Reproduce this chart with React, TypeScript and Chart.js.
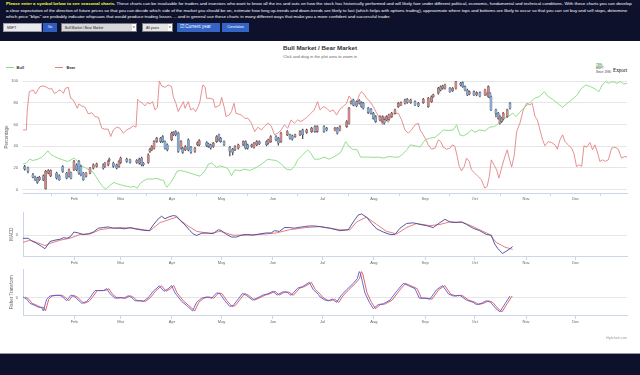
import React, { useEffect, useRef } from "react";
import { Chart, registerables } from "chart.js";
Chart.register(...registerables);

const FONT = "'Liberation Sans', Arial, sans-serif";
Chart.defaults.font.family = FONT;

const NAVY = "#0d112b";
const GRID = "#e6e6e6";
const AXIS = "#ccd6eb";
const LABEL = "#666666";

const monthTickDays = [31, 59, 90, 120, 151, 181, 212, 243, 273, 304, 334];
const monthLabels = ["Feb", "Mar", "Apr", "May", "Jun", "Jul", "Aug", "Sep", "Oct", "Nov", "Dec"];
const percentTicks = [0, 20, 40, 60, 80, 100];

// [dayOfYear, value]
const bull: [number, number][] = [
  [0, 23.5], [2, 24.5], [4, 28.1], [6, 26.9], [9, 28.1], [11, 29.7], [13, 32.1], [15, 35.8], [17, 32.1], [19, 30.6],
  [21, 29.1], [24, 27.5], [27, 26.0], [29, 27.5], [31, 29.1], [32, 27.5], [34, 24.5], [36, 21.4], [38, 19.9], [40, 18.3],
  [42, 16.8], [44, 12.2], [46, 7.6], [48, 3.1], [50, 0.6], [53, 4.6], [55, 6.7], [57, 5.5], [59, 4.6], [61, 3.7],
  [63, 3.1], [65, 2.4], [67, 3.1], [69, 1.5], [71, 6.1], [73, 8.3], [75, 9.8], [78, 9.8], [81, 10.4], [83, 9.2],
  [85, 8.6], [86, 4.6], [87, 2.4], [89, 6.1], [91, 10.7], [93, 16.8], [95, 17.7], [98, 16.8], [101, 15.3], [104, 13.8],
  [107, 12.5], [110, 17.5], [112, 23.5], [114, 24.5], [117, 20.5], [119, 22.0], [122, 20.8], [124, 19.0], [126, 12.8], [128, 18.3],
  [131, 17.4], [134, 19.0], [137, 17.7], [139, 19.0], [142, 21.4], [145, 24.5], [148, 28.1], [150, 27.5], [153, 26.9], [156, 23.9],
  [159, 19.0], [162, 18.3], [164, 21.4], [166, 27.5], [169, 32.1], [172, 36.7], [174, 33.6], [176, 28.1], [179, 28.1], [182, 30.0],
  [185, 28.1], [189, 31.2], [192, 34.3], [195, 44.3], [197, 39.8], [199, 37.3], [202, 36.7], [204, 30.0], [207, 30.0], [210, 30.0],
  [212, 29.7], [215, 30.0], [218, 29.1], [221, 30.6], [224, 30.0], [227, 30.0], [229, 32.1], [232, 36.7], [234, 41.3], [237, 40.4],
  [240, 39.3], [243, 45.9], [246, 47.4], [249, 48.3], [252, 52.0], [254, 55.0], [257, 54.4], [260, 55.0], [262, 59.6], [264, 50.5],
  [266, 49.5], [269, 52.0], [271, 55.0], [273, 52.9], [276, 55.0], [279, 54.1], [282, 57.5], [285, 58.1], [287, 60.6], [290, 64.8],
  [293, 67.3], [296, 70.3], [298, 67.3], [300, 70.9], [303, 75.8], [306, 79.5], [309, 84.1], [312, 85.6], [315, 90.2], [317, 86.2],
  [320, 83.2], [323, 79.5], [326, 75.8], [329, 79.5], [332, 83.2], [335, 87.2], [337, 92.4], [340, 96.3], [343, 94.8], [346, 92.4],
  [348, 90.2], [350, 96.3], [352, 99.4], [354, 97.9], [356, 99.5], [359, 97.9], [361, 99.4], [363, 97.2], [365, 97.9],
];

const bear: [number, number][] = [
  [0, 55], [2, 55], [2.6, 73.4], [3.8, 90.2], [5.2, 91.1], [6.2, 91.7], [7.6, 88.1], [9.3, 92.4], [10.3, 94.8], [12.3, 95.4],
  [14.3, 94.2], [16.3, 92.4], [17.3, 93.3], [18.9, 88.7], [20.3, 89.3], [21.8, 91.7], [23, 91.1], [24.4, 88.7], [25.6, 93.3], [27.4, 94.2],
  [28.8, 84.1], [30, 83.2], [31.4, 79.5], [32.8, 74.9], [33.8, 78.9], [35.5, 77.1], [37.5, 75.8], [39.5, 69.7], [41.5, 70.9], [43.5, 67.3],
  [45.5, 66.7], [47.6, 56.6], [49.5, 55.7], [51.5, 55.7], [53, 48.9], [54.6, 55.0], [56.6, 57.5], [58.6, 56.6], [60.6, 52.0], [62.7, 55.0],
  [64.7, 56.6], [66.7, 58.7], [68.3, 57.5], [69.3, 83.2], [70.7, 81.0], [72.3, 79.5], [73.7, 77.1], [75.3, 80.1], [76.7, 78.9], [78.3, 81.0],
  [79.8, 73.4], [81.2, 75.8], [82.4, 100], [83.8, 95.4], [85.8, 94.2], [87.8, 96.3], [89.8, 94.8], [90.8, 85.6], [92.4, 79.5], [93.8, 71.9],
  [95.9, 78.0], [96.9, 81.0], [97.9, 74.9], [99.9, 81.0], [101.3, 73.4], [102.9, 74.9], [104.3, 71.9], [105.9, 76.5], [106.9, 81.0], [108.6, 96.3],
  [110, 94.8], [111, 84.1], [113, 84.1], [115, 83.2], [116, 75.8], [117.4, 76.5], [119, 78.0], [120, 85.0], [121.5, 76.5], [122.7, 67.3],
  [124.7, 68.8], [126, 71.9], [127.5, 79.5], [128.7, 70.3], [130, 69.7], [132, 68.8], [134, 65.7], [136, 65.7], [138, 61.2], [140, 53.5],
  [142, 57.5], [144, 55.0], [146, 58.1], [148, 61.2], [150, 58.7], [152, 50.5], [154, 52.0], [156, 55.0], [158, 59.6], [160, 56.6],
  [162, 64.2], [164, 61.2], [166, 64.2], [168, 62.7], [170, 64.8], [172, 67.3], [174, 70.3], [176, 73.4], [178, 81.0], [179.5, 73.4],
  [181.5, 76.5], [183.5, 74.9], [185.5, 71.9], [187.5, 73.4], [189.5, 68.8], [191.5, 74.0], [193.5, 76.5], [195.6, 79.5], [197, 86.2], [198.6, 82.6],
  [200, 76.5], [201.6, 79.5], [203.2, 87.2], [204.6, 90.2], [206, 88.1], [207.7, 84.1], [209.7, 81.0], [211.7, 76.5], [213.7, 70.3], [215.7, 65.7],
  [217.3, 59.6], [218.7, 67.3], [220.7, 61.8], [222.8, 68.8], [224.8, 70.3], [226.8, 70.3], [228.8, 64.2], [230.8, 55.0], [232.8, 52.0], [234.8, 55.0],
  [236.9, 59.6], [238.9, 61.2], [240, 55.0], [241.9, 50.5], [243.5, 45.9], [244.9, 41.3], [246.9, 37.3], [249, 38.2], [251, 45.9], [252.4, 44.3],
  [254, 39.1], [256, 37.3], [258, 38.2], [259.6, 41.3], [261, 39.8], [262.4, 30.6], [263.6, 21.4], [265, 17.4], [266.7, 21.4], [268, 29.1],
  [269.7, 26.0], [271, 18.3], [273, 15.3], [275, 12.2], [277, 9.2], [279, 1.5], [280.5, 3.1], [281.8, 12.2], [283, 27.5], [284.6, 22.9],
  [286.2, 18.3], [287.6, 10.7], [289.2, 19.9], [291.2, 30.6], [292.6, 36.7], [293.8, 29.1], [295.3, 20.8], [296.9, 32.1], [298.3, 53.5], [300.3, 61.2],
  [302.3, 73.4], [304.4, 79.5], [306.3, 78.0], [307.7, 79.5], [309.4, 67.3], [310.8, 64.2], [312.4, 55.0], [314, 45.9], [315.4, 40.4], [317.4, 44.3],
  [319.4, 43.4], [321.5, 41.3], [322.9, 37.3], [324.5, 45.9], [326.1, 50.5], [327.5, 44.3], [329.5, 41.3], [331.5, 38.2], [332.9, 33.6], [334.5, 21.4],
  [336.1, 22.9], [337.6, 21.4], [339, 40.4], [340.6, 39.1], [342.6, 43.4], [344.2, 36.7], [345.6, 41.3], [347.3, 33.6], [348.6, 26.0], [350.2, 27.5],
  [351.7, 26.0], [353.7, 27.5], [355.7, 38.2], [357.7, 39.1], [359.7, 37.3], [361.7, 29.1], [363.7, 30.6], [365, 30.0],
];

// [day, open, high, low, close]
const candles: [number, number, number, number, number][] = [
  [1, 21.4, 22.5, 18.0, 19.0], [3, 19.9, 20.8, 15.5, 16.8], [6, 13.8, 15.0, 10.8, 11.6], [7.3, 11.6, 12.5, 8.3, 9.2],
  [8.7, 10.7, 11.5, 5.8, 6.7], [9.9, 9.2, 12.4, 8.5, 11.6], [12.3, 12.8, 13.6, 8.4, 9.2], [13.7, 1.0, 17.8, 0.5, 17.0],
  [15.3, 15.3, 18.5, 14.5, 17.7], [16.7, 12.8, 18.4, 12.0, 17.7], [20.3, 15.3, 16.2, 9.8, 10.7], [21.9, 12.8, 13.6, 8.5, 9.2],
  [24, 21.4, 22.2, 16.0, 16.8], [26.4, 15.3, 16.0, 10.0, 10.7], [27.8, 12.2, 19.2, 11.5, 18.3], [29, 15.3, 16.2, 10.0, 10.7],
  [30.8, 18.3, 27.0, 17.5, 26.0], [32.4, 22.9, 24.0, 17.4, 18.3], [33.8, 26.0, 27.0, 14.2, 15.3], [35, 21.4, 22.4, 12.8, 13.8],
  [36.4, 15.3, 16.0, 8.5, 9.2], [38.1, 12.2, 16.0, 11.5, 15.3], [40.5, 15.3, 20.6, 14.6, 19.9], [42.5, 19.9, 23.8, 19.2, 22.9],
  [44.5, 21.4, 24.6, 20.7, 23.9], [48.5, 22.9, 23.8, 19.0, 19.9], [49.5, 21.4, 25.3, 20.6, 24.5], [51.5, 22.9, 27.0, 22.0, 26.0],
  [52.1, 26.9, 29.0, 26.0, 28.1], [54.6, 24.5, 25.4, 20.5, 21.4], [56.6, 22.9, 23.7, 19.1, 19.9], [58, 21.4, 26.8, 20.6, 26.0],
  [59, 25.1, 30.0, 24.3, 29.1], [62.7, 28.1, 29.0, 25.2, 26.0], [64.7, 27.5, 28.3, 24.4, 25.1], [68.7, 26.9, 27.8, 24.2, 25.1],
  [70.3, 24.5, 29.0, 23.6, 28.1], [71.7, 29.1, 30.0, 22.0, 22.9], [72.7, 24.5, 25.2, 22.0, 22.9], [75.7, 25.1, 33.0, 24.2, 32.1],
  [76.7, 35.2, 38.0, 34.3, 37.3], [77.8, 36.7, 40.6, 36.0, 39.8], [79.2, 38.2, 45.2, 37.4, 44.3], [80.8, 44.3, 48.3, 43.5, 47.4],
  [83.2, 47.4, 48.3, 43.4, 44.3], [84.4, 48.9, 49.8, 43.5, 44.3], [85.8, 44.3, 45.0, 37.3, 38.2], [87.2, 41.3, 42.2, 35.8, 36.7],
  [89.8, 45.9, 53.0, 45.0, 52.0], [90.8, 50.5, 53.5, 49.7, 52.6], [92.2, 53.5, 54.3, 49.6, 50.5], [93.8, 52.0, 53.0, 34.3, 35.2],
  [95.5, 38.2, 45.1, 37.4, 44.3], [96.5, 38.2, 39.0, 33.3, 34.3], [98.1, 36.7, 40.6, 35.9, 39.8], [99.9, 45.9, 46.8, 35.8, 36.7],
  [101.5, 39.1, 40.0, 33.4, 34.3], [103.9, 35.2, 39.0, 34.4, 38.2], [105.5, 41.3, 44.2, 40.5, 43.4], [106.5, 41.3, 46.2, 40.4, 45.3],
  [111, 43.4, 44.3, 39.5, 40.4], [112, 42.2, 43.0, 39.0, 39.8], [113.4, 41.3, 42.0, 37.3, 38.2], [115, 39.8, 43.6, 39.0, 42.8],
  [117, 44.3, 49.8, 43.5, 48.9], [118.4, 50.5, 51.3, 45.0, 45.9], [119.4, 47.4, 48.2, 43.5, 44.3], [121.5, 44.3, 45.0, 40.5, 41.3],
  [125, 39.1, 40.0, 31.2, 35.2], [126.7, 37.3, 38.1, 32.0, 34.3], [128.1, 36.7, 40.6, 35.9, 39.8], [130.1, 38.2, 42.1, 37.4, 41.3],
  [133.1, 41.3, 45.0, 40.5, 44.3], [134.5, 44.3, 45.0, 37.4, 38.2], [135.7, 41.3, 42.0, 37.3, 38.2], [138.2, 39.8, 42.1, 39.0, 41.3],
  [139.6, 39.1, 43.5, 38.3, 42.8], [141.2, 41.3, 45.1, 40.5, 44.3], [142.8, 44.3, 45.0, 41.4, 42.2], [147.2, 44.3, 45.1, 40.4, 41.3],
  [148.2, 42.8, 46.7, 42.0, 45.9], [149.7, 44.3, 49.8, 43.5, 48.9], [152.9, 48.9, 49.7, 45.0, 45.9], [154.3, 47.4, 48.3, 41.0, 42.8],
  [155.9, 44.3, 53.0, 43.5, 52.0], [159.7, 50.5, 54.3, 49.7, 53.5], [161.3, 50.5, 51.3, 46.6, 47.4], [162.7, 49.5, 50.3, 45.5, 46.5],
  [164.4, 48.9, 51.3, 48.0, 50.5], [167.4, 50.5, 54.3, 49.7, 53.5], [169, 55.0, 55.8, 47.0, 50.5], [171.4, 52.6, 55.8, 51.8, 55.0],
  [174.4, 53.5, 57.4, 52.7, 56.6], [176.4, 58.1, 58.9, 52.6, 53.5], [177.8, 53.5, 58.9, 52.7, 58.1], [181.9, 58.1, 59.0, 52.7, 53.5],
  [183.5, 56.6, 57.4, 54.2, 55.0], [188.5, 55.0, 57.4, 54.2, 56.6], [189.9, 56.6, 57.4, 51.2, 52.0], [191.5, 55.0, 58.9, 54.2, 58.1],
  [195.6, 58.1, 63.5, 57.3, 62.7], [197, 61.2, 75.8, 60.4, 74.9], [198.2, 79.5, 81.8, 78.7, 81.0], [199.6, 82.6, 83.4, 77.2, 78.0],
  [201.6, 81.0, 81.8, 76.3, 77.1], [203.2, 79.5, 82.8, 78.7, 82.0], [204.6, 80.1, 80.9, 75.7, 76.5], [205.6, 79.5, 80.3, 74.0, 74.9],
  [208.6, 74.9, 75.7, 70.0, 70.9], [210.3, 74.0, 74.8, 69.5, 70.3], [211.7, 70.3, 71.1, 64.9, 65.7], [213.1, 67.3, 68.1, 61.9, 62.7],
  [215.7, 64.2, 68.1, 63.4, 67.3], [217.3, 62.7, 68.1, 61.9, 67.3], [218.3, 64.2, 65.0, 60.4, 61.2], [219.7, 64.2, 68.1, 63.4, 67.3],
  [221.1, 64.8, 69.6, 64.0, 68.8], [222.8, 67.3, 71.1, 66.5, 70.3], [224.8, 70.3, 74.2, 69.5, 73.4], [226.8, 76.5, 80.3, 75.7, 79.5],
  [228.4, 78.0, 80.9, 77.2, 80.1], [230.8, 79.5, 83.4, 78.7, 82.6], [232.2, 83.2, 84.0, 79.3, 80.1], [234.3, 80.1, 83.4, 79.3, 82.6],
  [236.9, 81.0, 81.8, 77.2, 78.0], [238.9, 79.5, 80.3, 76.3, 77.1], [241.9, 80.1, 84.0, 79.3, 83.2], [244.9, 76.5, 84.9, 75.7, 84.1],
  [246.9, 81.0, 86.4, 80.2, 85.6], [247.9, 85.6, 88.0, 84.8, 87.2], [251, 88.7, 94.1, 87.9, 93.3], [252.4, 94.8, 95.6, 90.9, 91.7],
  [253.6, 93.3, 96.2, 92.5, 95.4], [255, 93.3, 97.1, 92.5, 96.3], [258, 93.3, 94.1, 89.4, 90.2], [259.6, 91.1, 94.1, 90.3, 93.3],
  [261.6, 93.3, 100, 92.5, 99.4], [264.5, 97.9, 98.7, 95.5, 96.3], [265.7, 98.5, 99.3, 94.0, 94.8], [267.1, 94.8, 95.6, 90.9, 91.7],
  [268.5, 91.7, 92.5, 86.4, 87.2], [269.7, 88.1, 91.0, 87.3, 90.2], [272.5, 90.2, 91.0, 86.4, 87.2], [274.1, 87.2, 90.1, 86.4, 89.3],
  [276.1, 89.3, 90.1, 85.4, 86.2], [279.2, 87.2, 92.5, 86.4, 91.7], [280.6, 87.2, 89.5, 86.4, 88.7], [281.2, 85.6, 95.6, 84.8, 94.8],
  [282.2, 88.7, 89.5, 84.2, 85.0], [282.8, 85.6, 86.4, 72.6, 73.4], [285.8, 73.4, 74.2, 67.0, 70.3], [287.2, 70.3, 71.1, 64.9, 65.7],
  [288.2, 61.2, 68.1, 60.4, 67.3], [289.2, 65.7, 66.5, 61.9, 62.7], [290.2, 64.8, 71.1, 64.0, 70.3], [292.6, 67.3, 74.2, 66.5, 73.4],
  [294.3, 79.5, 80.3, 74.1, 74.9],
];

const macd: [number, number][] = [
  [0, -0.33], [3.2, -0.33], [5.2, -0.6], [8.3, -0.87], [11.3, -1.2], [13.3, -1.43], [15.3, -0.93], [16.3, -0.67], [19.3, -0.53], [22.4, -0.43],
  [24.4, -0.27], [26.4, -0.33], [28.4, -0.2], [30.8, 0.33], [33.4, 0.23], [36.4, 0.07], [39.5, 0.13], [42.5, 0.33], [45.5, 0.73], [48.5, 0.8],
  [51.5, 0.87], [54.6, 0.73], [58.6, 0.73], [61.6, 0.67], [64.7, 0.8], [67.7, 0.67], [70.7, 0.57], [73.7, 0.5], [76.3, 0.47], [78.7, 1.07],
  [81.8, 1.73], [83.8, 2.0], [85.8, 1.73], [87.8, 1.9], [90.8, 2.07], [92.8, 2.0], [94.9, 1.57], [97.9, 1.07], [100.9, 0.47], [102.9, 0.13],
  [104.9, -0.03], [108, 0.2], [111, 0.23], [115, 0.17], [118, 0.57], [120, 0.47], [123, 0.07], [126, -0.2], [129, -0.2], [132, 0],
  [135, 0.07], [139, 0], [143, 0.13], [147, 0.23], [150, 0.23], [152, 0.47], [155, 0.4], [158, 0.8], [161, 0.8], [164, 0.73],
  [167, 0.83], [170, 0.9], [173, 0.97], [176, 0.97], [179.5, 0.9], [185.5, 0.73], [191.5, 0.47], [196.6, 0.57], [199.6, 1.4], [202.6, 2.13],
  [204.6, 2.23], [207.6, 1.9], [210.7, 1.23], [213.7, 0.67], [217.7, 0.33], [221.8, 0.07], [224.8, 0.07], [227.8, 0.73], [231.8, 1.23], [235.8, 1.3],
  [239.9, 1.13], [243.9, 1.0], [247.9, 0.8], [252, 1.33], [255, 1.67], [258, 1.4], [261, 1.33], [265, 1.4], [268, 1.13], [272, 0.73],
  [276, 0.47], [280, 0.07], [283, 0], [285, -0.93], [287, -1.43], [289.8, -1.93], [292.3, -1.67], [294.3, -1.43], [295.9, -1.2],
];

const macdSignal: [number, number][] = [
  [0, -0.77], [4.2, -0.53], [8.3, -0.77], [13.3, -1.1], [16.3, -0.87], [22.4, -0.53], [28.4, -0.33], [34.4, 0.07], [40.5, 0.13], [46.5, 0.57],
  [52.6, 0.73], [58.6, 0.8], [66.7, 0.73], [76.7, 0.47], [82.8, 1.33], [88.8, 1.67], [92.8, 1.9], [98.9, 1.07], [104.9, 0.4], [113, 0.17],
  [119, 0.4], [127, 0], [135, 0], [143, 0.07], [153, 0.23], [161, 0.57], [171, 0.8], [179.5, 0.9], [191.5, 0.57], [197.6, 0.57],
  [201.6, 1.4], [207.6, 1.9], [213.7, 1.13], [219.7, 0.4], [225.8, 0.13], [231.8, 0.8], [237.8, 1.23], [245.9, 1.0], [252, 1.13], [258, 1.4],
  [266, 1.33], [272, 0.9], [278, 0.4], [282, 0.07], [286, -0.77], [291.3, -1.27], [295.9, -1.5],
];

const fisher: [number, number][] = [
  [0, 0.1], [2.2, -0.13], [4.2, -0.57], [7.3, -0.8], [9.3, -0.97], [11.3, -1.03], [12.3, -1.37], [14.3, -0.13], [16.3, 0.2], [19.3, 0.27],
  [22.4, 0.27], [24.4, 0.03], [26.4, -0.3], [29, 0.3], [31.4, 0.1], [35.5, -0.57], [38.5, -0.37], [40.5, 0.03], [43.5, 0.77], [46.5, 0.77],
  [48.5, 0.77], [50.6, 0.97], [52.6, 0.43], [55.6, -0.03], [58.6, 0.03], [61, -0.03], [63.6, 0.23], [65.7, 0.03], [67.7, -0.3], [70.7, -0.3],
  [72.7, -0.37], [75.7, 0.03], [78.7, 0.7], [82.4, 1.27], [85.2, 0.7], [87.8, 0.97], [89.8, 1.3], [91.8, 0.53], [95.9, -0.37], [98.9, -0.8],
  [102.5, -1.37], [104.9, -0.47], [108, -0.03], [111, 0.1], [114, -0.03], [117, 0.53], [119, 0.43], [122, -0.3], [125, -0.9], [127, -0.8],
  [130, -0.13], [132.7, 0.47], [135, 0.27], [138.7, -0.23], [142, 0.03], [145, 0.3], [148, 0.43], [151, 0.7], [153.6, 0.3], [157, 0.63],
  [159.6, 0.6], [162, 0.27], [166, 1.03], [169, 1.2], [173, 1.63], [175.4, 0.87], [178.5, 0.37], [179.5, 0.1], [182.5, -0.23], [184.5, -0.3],
  [187, -0.13], [189.5, -0.47], [192, 0.2], [195.6, 0.87], [199.6, 1.53], [202, 2.03], [203.2, 2.77], [204, 2.53], [206.6, 0.53], [209.3, -0.47],
  [211.7, -1.13], [214.7, -0.7], [217.7, -0.63], [221.8, -0.23], [225.8, 0.7], [229.8, 1.53], [232.8, 1.3], [236.9, 0.97], [239.5, -0.03], [242.9, -0.03],
  [245.9, -0.13], [250, 0.87], [253.6, 1.3], [257, 0.43], [260, 0.2], [264, 0.27], [268, -0.23], [272, -0.47], [274, -0.7], [277, -0.57],
  [280, -0.3], [282.6, -0.47], [285.8, -1.13], [288.2, -1.47], [291.2, -0.63], [294.3, 0.2],
];

const fisherTrigger: [number, number][] = [
  [1.3, 0.1], [3.5, -0.13], [5.5, -0.57], [8.6, -0.8], [10.6, -0.97], [12.6, -1.03], [13.6, -1.37], [15.6, -0.13], [17.6, 0.2], [20.6, 0.27],
  [23.7, 0.27], [25.7, 0.03], [27.7, -0.3], [30.3, 0.3], [32.7, 0.1], [36.8, -0.57], [39.8, -0.37], [41.8, 0.03], [44.8, 0.77], [47.8, 0.77],
  [49.8, 0.77], [51.9, 0.97], [53.9, 0.43], [56.9, -0.03], [59.9, 0.03], [62.3, -0.03], [64.9, 0.23], [67, 0.03], [69, -0.3], [72, -0.3],
  [74, -0.37], [77, 0.03], [80, 0.7], [83.7, 1.27], [86.5, 0.7], [89.1, 0.97], [91.1, 1.3], [93.1, 0.53], [97.2, -0.37], [100.2, -0.8],
  [103.8, -1.37], [106.2, -0.47], [109.3, -0.03], [112.3, 0.1], [115.3, -0.03], [118.3, 0.53], [120.3, 0.43], [123.3, -0.3], [126.3, -0.9], [128.3, -0.8],
  [131.3, -0.13], [134, 0.47], [136.3, 0.27], [140, -0.23], [143.3, 0.03], [146.3, 0.3], [149.3, 0.43], [152.3, 0.7], [154.9, 0.3], [158.3, 0.63],
  [160.9, 0.6], [163.3, 0.27], [167.3, 1.03], [170.3, 1.2], [174.3, 1.63], [176.7, 0.87], [179.8, 0.37], [180.8, 0.1], [183.8, -0.23], [185.8, -0.3],
  [188.3, -0.13], [190.8, -0.47], [193.3, 0.2], [196.9, 0.87], [200.9, 1.53], [203.3, 2.03], [204.5, 2.77], [205.3, 2.53], [207.9, 0.53], [210.6, -0.47],
  [213, -1.13], [216, -0.7], [219, -0.63], [223.1, -0.23], [227.1, 0.7], [231.1, 1.53], [234.1, 1.3], [238.2, 0.97], [240.8, -0.03], [244.2, -0.03],
  [247.2, -0.13], [251.3, 0.87], [254.9, 1.3], [258.3, 0.43], [261.3, 0.2], [265.3, 0.27], [269.3, -0.23], [273.3, -0.47], [275.3, -0.7], [278.3, -0.57],
  [281.3, -0.3], [283.9, -0.47], [287.1, -1.13], [289.5, -1.47], [292.5, -0.63], [295.6, 0.2],
];

const BULL_COLOR = "#86dc7e";
const BEAR_COLOR = "#e38585";
const UP_BODY = "#cf8585";
const DOWN_BODY = "#85a9d6";

const pts = (arr: [number, number][]) => arr.map(([x, y]) => ({ x, y }));

function xAxis(height: number, tickLength: number) {
  return {
    type: "linear",
    min: 0,
    max: 365,
    offset: false,
    afterBuildTicks: (s: any) => {
      s.ticks = monthTickDays.map((v) => ({ value: v }));
    },
    afterFit: (s: any) => {
      s.height = height;
    },
    ticks: {
      callback: (_v: any, i: number) => monthLabels[i],
      font: { size: 4, family: FONT },
      color: LABEL,
      padding: 0,
      maxRotation: 0,
      autoSkip: false,
    },
    grid: { display: true, drawOnChartArea: false, drawTicks: true, tickLength, color: AXIS, lineWidth: 1 },
    border: { display: true, color: AXIS, width: 1 },
  };
}

function yAxis(opts: { min: number; max: number; ticks: number[]; title: string; titlePad: number; border: boolean }) {
  return {
    min: opts.min,
    max: opts.max,
    afterBuildTicks: (s: any) => {
      s.ticks = opts.ticks.map((v) => ({ value: v }));
    },
    afterFit: (s: any) => {
      s.width = 23;
    },
    ticks: { font: { size: 4, family: FONT }, color: LABEL, padding: 5, callback: (v: any) => String(v) },
    grid: { color: GRID, lineWidth: 1, drawTicks: false },
    border: { display: opts.border, color: AXIS, width: 1 },
    title: {
      display: true,
      text: opts.title,
      font: { size: 4.5, family: FONT },
      color: LABEL,
      padding: { top: opts.titlePad, bottom: 0 },
    },
  };
}

const basePlugins = { legend: { display: false }, tooltip: { enabled: false }, title: { display: false } };

function mainConfig(): any {
  return {
    type: "bar",
    data: {
      datasets: [
        {
          type: "bar",
          data: candles.map((c) => ({ x: c[0], y: [c[1], c[4]] })),
          backgroundColor: candles.map((c) => (c[4] >= c[1] ? UP_BODY : DOWN_BODY)),
          borderColor: "#555555",
          borderWidth: 0.35,
          borderSkipped: false,
          barThickness: 2.2,
          grouped: false,
          order: 1,
        },
        {
          type: "bar",
          data: candles.map((c) => ({ x: c[0], y: [c[3], c[2]] })),
          backgroundColor: "#4a4a4a",
          borderWidth: 0,
          barThickness: 0.6,
          grouped: false,
          order: 2,
        },
        {
          type: "line",
          data: pts(bull),
          borderColor: BULL_COLOR,
          borderWidth: 0.9,
          pointRadius: 0,
          tension: 0,
          order: 3,
        },
        {
          type: "line",
          data: pts(bear),
          borderColor: BEAR_COLOR,
          borderWidth: 0.9,
          pointRadius: 0,
          tension: 0,
          order: 4,
        },
      ],
    },
    options: {
      animation: false,
      responsive: true,
      maintainAspectRatio: false,
      layout: { padding: { top: 11, right: 13, left: 0, bottom: 0 } },
      plugins: basePlugins,
      scales: {
        x: xAxis(13, 3),
        y: yAxis({ min: -3, max: 100, ticks: percentTicks, title: "Percentage", titlePad: 4, border: false }),
      },
    },
  };
}

function lowerConfig(
  a: [number, number][],
  b: [number, number][],
  colA: string,
  colB: string,
  min: number,
  max: number,
  title: string
): any {
  return {
    type: "line",
    data: {
      datasets: [
        { data: pts(a), borderColor: colA, borderWidth: 0.9, pointRadius: 0, tension: 0 },
        { data: pts(b), borderColor: colB, borderWidth: 0.9, pointRadius: 0, tension: 0 },
      ],
    },
    options: {
      animation: false,
      responsive: true,
      maintainAspectRatio: false,
      layout: { padding: { top: 5, right: 13, left: 0, bottom: 0 } },
      plugins: basePlugins,
      scales: {
        x: xAxis(9, 4),
        y: yAxis({ min, max, ticks: [0], title, titlePad: 8.8, border: true }),
      },
    },
  };
}

function ChartBox({ left, top, width, height, make }: { left: number; top: number; width: number; height: number; make: () => any }) {
  const ref = useRef<HTMLCanvasElement>(null);
  useEffect(() => {
    const chart = new Chart(ref.current as HTMLCanvasElement, make());
    return () => chart.destroy();
  }, []);
  return (
    <div style={{ position: "absolute", left, top, width, height }}>
      <canvas ref={ref} />
    </div>
  );
}

const abs = (s: React.CSSProperties): React.CSSProperties => ({ position: "absolute", ...s });

function Box({ left, width, bg, border, children, color = "#222", size = 3.4, center = false }: any) {
  return (
    <div
      style={abs({
        left,
        top: 23,
        width,
        height: 9,
        background: bg,
        border,
        boxSizing: "border-box",
        color,
        fontSize: size,
        lineHeight: "8px",
        paddingLeft: center ? 0 : 3,
        textAlign: center ? "center" : "left",
        whiteSpace: "nowrap",
        overflow: "hidden",
      })}
    >
      {children}
    </div>
  );
}

export default function App() {
  return (
    <div style={{ position: "fixed", left: 0, top: 0, width: 640, height: 375, background: "#fff", overflow: "hidden", fontFamily: FONT }}>
      {/* header band */}
      <div style={abs({ left: 0, top: 0, width: 640, height: 41, background: NAVY })}>
        <div style={abs({ left: 6, top: 1.4, fontSize: 4.4, lineHeight: "6.5px", color: "#fff", whiteSpace: "nowrap" })}>
          <div>
            <span style={{ color: "#ffff33", fontWeight: "bold" }}>Please enter a symbol below to see seasonal charts.</span> These charts can be
            invaluable for traders and investors who want to know all the ins and outs on how the stock has historically performed and will likely fare
            under different political, economic, fundamental and technical conditions. With these charts you can develop
          </div>
          <div>
            a clear expectation of the direction of future prices so that you can decide which side of the market you should be on, estimate how long
            up-trends and down-trends are likely to last (which helps with options trading), approximate where tops and bottoms are likely to occur so
            that you can set buy and sell stops, determine
          </div>
          <div>
            which price "blips" are probably indicator whipsaws that would produce trading losses ... and in general use these charts in many different
            ways that make you a more confident and successful trader.
          </div>
        </div>
        <Box left={3} width={39} bg="#e9e9ee" border="1px solid #9a9aa8">MSFT</Box>
        <Box left={43} width={14} bg="#2e5cc0" color="#fff" center>Go</Box>
        <Box left={61} width={76} bg="#d8d8dc" border="1px solid #777">
          Bull Market / Bear Market
          <span style={abs({ right: 0, top: 0, width: 4, height: 7, background: "#fff", color: "#000", fontSize: 3, lineHeight: "7px", textAlign: "center" })}>▾</span>
        </Box>
        <Box left={142} width={31} bg="#e4e4e8" border="1px solid #777">
          All years
          <span style={abs({ right: 0, top: 0, width: 4, height: 7, background: "#fff", color: "#000", fontSize: 3, lineHeight: "7px", textAlign: "center" })}>▾</span>
        </Box>
        <Box left={177} width={43} bg="#3465c6" color="#fff" size={4.6}>☑ Current year</Box>
        <Box left={222} width={27} bg="#3465c6" color="#fff" size={3.4} center>Correlation</Box>
      </div>

      {/* titles */}
      <div style={abs({ left: 0, top: 43.5, width: 640, textAlign: "center", fontSize: 6.2, fontWeight: "bold", color: "#333", lineHeight: "7px" })}>
        Bull Market / Bear Market
      </div>
      <div style={abs({ left: 0, top: 53.8, width: 640, textAlign: "center", fontSize: 4.07, color: "#666", lineHeight: "5px" })}>
        Click and drag in the plot area to zoom in
      </div>

      {/* legend */}
      <div style={abs({ left: 6, top: 67, width: 8, height: 1, background: BULL_COLOR })} />
      <div style={abs({ left: 16.5, top: 64.8, fontSize: 4, fontWeight: "bold", color: "#333", lineHeight: "5px" })}>Bull</div>
      <div style={abs({ left: 55, top: 67, width: 8, height: 1, background: BEAR_COLOR })} />
      <div style={abs({ left: 66.5, top: 64.8, fontSize: 4, fontWeight: "bold", color: "#333", lineHeight: "5px" })}>Bear</div>

      {/* stats box and export */}
      <div style={abs({ left: 596, top: 64, fontSize: 2.8, lineHeight: "3.4px", color: "#333" })}>
        <div style={{ color: "#3bb33b", fontWeight: "bold", fontSize: 3.2 }}>79%</div>
        <div>MSFT</div>
        <div>Since: 1990</div>
      </div>
      <div style={abs({ left: 613, top: 66.5, fontSize: 5.2, lineHeight: "6px", color: "#000", fontFamily: "'Liberation Serif', 'DejaVu Serif', serif" })}>
        Export
      </div>

      <ChartBox left={0} top={70} width={640} height={136} make={mainConfig} />
      <ChartBox
        left={0}
        top={205}
        width={640}
        height={60}
        make={() => lowerConfig(macd, macdSignal, "#45459a", "#e27070", -2.2, 2.4, "MACD")}
      />
      <ChartBox
        left={0}
        top={262}
        width={640}
        height={62}
        make={() => lowerConfig(fisher, fisherTrigger, "#5a5ad2", "#dc5252", -1.8, 3.0, "Fisher Transform")}
      />

      <div style={abs({ left: 560, top: 336, width: 67, textAlign: "right", fontSize: 3, color: "#999", lineHeight: "4px" })}>Highcharts.com</div>

      {/* footer band */}
      <div style={abs({ left: 0, top: 353, width: 640, height: 22, background: NAVY, borderTop: "1px solid #9a9aa0", boxSizing: "border-box" })} />
    </div>
  );
}
